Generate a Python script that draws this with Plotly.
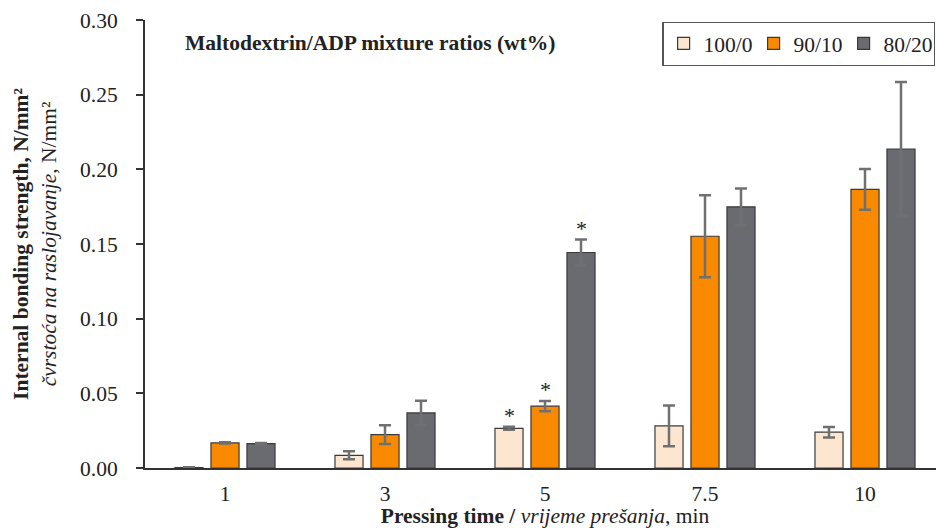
import plotly.graph_objects as go

# Pressing times (min) and mixture ratios
times = ["1", "3", "5", "7.5", "10"]
series_names = ["100/0", "90/10", "80/20"]

# Internal bonding strength (N/mm²) and standard deviations
ib_100_0 = [0.0003, 0.0085, 0.0266, 0.0282, 0.0240]
sd_100_0 = [0.0002, 0.0027, 0.0010, 0.0136, 0.0035]
ib_90_10 = [0.0168, 0.0224, 0.0414, 0.1552, 0.1866]
sd_90_10 = [0.0004, 0.0063, 0.0034, 0.0274, 0.0136]
ib_80_20 = [0.0163, 0.0369, 0.1443, 0.1749, 0.2136]
sd_80_20 = [0.0004, 0.0081, 0.0087, 0.0123, 0.0448]

# Significance markers: (series index, time index)
significant = [(0, 2), (1, 2), (2, 2)]

fill_colors = ["#FDE6CF", "#F98A00", "#6A6B70"]
values = [ib_100_0, ib_90_10, ib_80_20]
errors = [sd_100_0, sd_90_10, sd_80_20]

FONT = "Liberation Serif, Times New Roman, serif"
FS = 21.5

fig = go.Figure()
for name, vals, errs, col in zip(series_names, values, errors, fill_colors):
    fig.add_trace(go.Bar(
        x=times, y=vals, name=name,
        marker=dict(color=col, line=dict(color="#3a3a3a", width=1.2)),
        error_y=dict(type="data", array=errs, visible=True,
                     color="#707070", thickness=2.5, width=6),
    ))

# asterisks above the error bars of significant results
slot_shift = [-36, 0, 36]
for si, ti in significant:
    top = values[si][ti] + errors[si][ti]
    fig.add_annotation(x=ti, y=top, xref="x", yref="y",
                       text="*", showarrow=False, xshift=slot_shift[si],
                       yanchor="bottom", yshift=-3,
                       font=dict(family=FONT, size=22, color="#222"))

fig.add_annotation(x=0.0475, y=0.948, xref="paper", yref="paper",
                   xanchor="left", yanchor="middle", showarrow=False,
                   text="<b>Maltodextrin/ADP mixture ratios (wt%)</b>",
                   font=dict(family=FONT, size=FS, color="#222"))

fig.update_layout(
    width=950, height=528,
    margin=dict(l=145, r=5, t=20, b=60),
    paper_bgcolor="white", plot_bgcolor="white",
    barmode="group", bargap=0.325, bargroupgap=0.22,
    font=dict(family=FONT, size=FS, color="#222"),
    showlegend=True,
    legend=dict(orientation="h", x=0.988, xanchor="right", y=0.996, yanchor="top",
                bordercolor="#555", borderwidth=1.2, bgcolor="white",
                font=dict(family=FONT, size=FS, color="#222"),
                itemwidth=30, entrywidth=45, traceorder="normal"),
    xaxis=dict(
        type="category", showline=True, linecolor="#333", linewidth=2,
        ticks="", showgrid=False, tickfont=dict(size=FS),
        ticklabelstandoff=5,
        title=dict(text="<b>Pressing time /</b> <i>vrijeme prešanja</i>, min",
                   font=dict(size=FS), standoff=2),
    ),
    yaxis=dict(
        range=[0, 0.30], tickvals=[0, 0.05, 0.10, 0.15, 0.20, 0.25, 0.30],
        tickformat=".2f", showline=True, linecolor="#333", linewidth=2,
        ticks="outside", ticklen=7, tickwidth=1.5, tickcolor="#333",
        showgrid=False, zeroline=False, tickfont=dict(size=FS),
        ticklabelstandoff=14,
        title=dict(text="<b>Internal bonding strength, N/mm²</b><br>"
                        "<i>čvrstoća na raslojavanje</i>, N/mm²",
                   font=dict(size=FS), standoff=18),
    ),
)

fig.write_html("out.html")
